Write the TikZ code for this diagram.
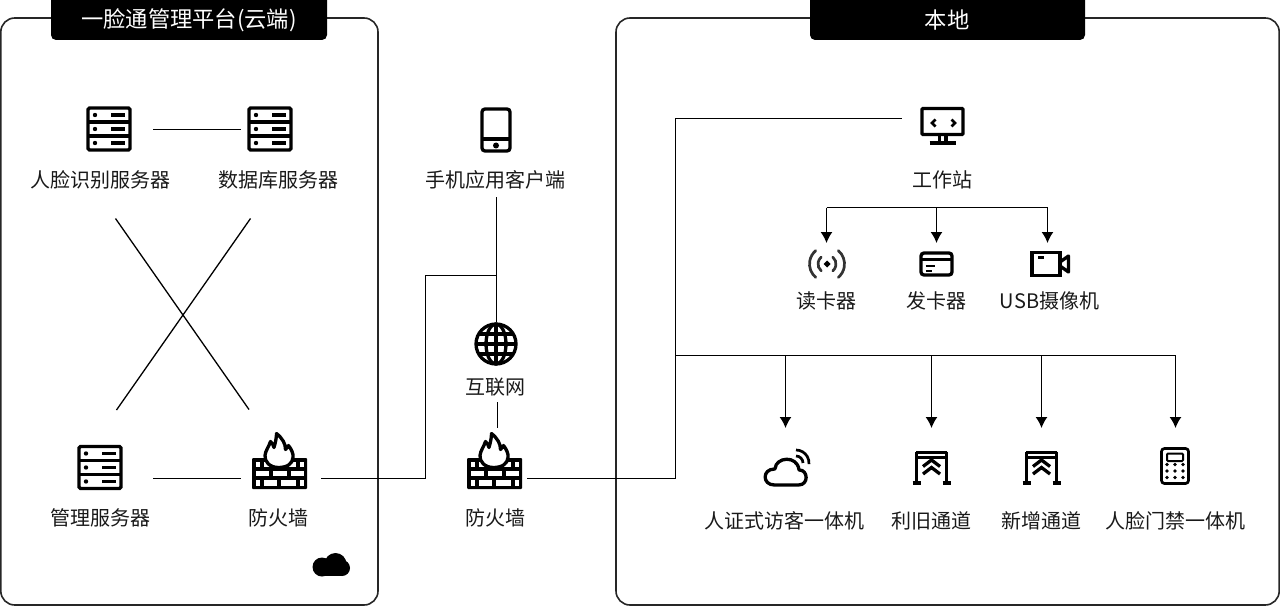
\documentclass[tikz,border=0pt]{standalone}
\usepackage{fontspec}
\setmainfont{Noto Sans CJK SC}
\usetikzlibrary{arrows.meta}
\newdimen\px \px=0.75pt
\tikzset{
  x=0.75pt,y=-0.75pt,
  panel/.style={draw=black!85,line width=1.6\px,rounded corners=14\px},
  titlebar/.style={fill=black,rounded corners=5\px},
  titletext/.style={text=white,font=\fontsize{16.7pt}{18pt}\selectfont,inner sep=0pt},
  lab/.style={font=\fontsize{15pt}{17pt}\selectfont,inner sep=0pt,text=black!90},
  link/.style={draw=black,line width=1.3\px},
  arrowlink/.style={link,-{Latex[length=8.25pt,width=9pt]}},
  slot/.style={inner sep=0pt,outer sep=0pt,minimum width=#1\px,minimum height=#1\px},
  ink/.style={draw=black,line width=3.3\px},
  thin ink/.style={draw=black,line width=2.7\px},
  server/.pic={
    \draw[ink,rounded corners=1.5\px] (-21,-21) rectangle (21,21);
    \draw[ink] (-21,-7) -- (21,-7) (-21,7) -- (21,7);
    \foreach \r in {-14,0,14}{
      \fill (-14,\r) circle (2.2);
      \draw[ink,line width=3.8\px] (2,\r) -- (16,\r);
    }
  },
  wall/.pic={
    \fill[black,rounded corners=1\px] (-27.5,-15.5) rectangle (27.5,15.5);
    \foreach \a/\b in {-24/-20,-16/-8.5,8.5/16,20/24}
      \fill[white] (\a,-12) rectangle (\b,-6.7);
    \foreach \a/\b in {-24/-11,-7/7,11/24}
      \fill[white] (\a,-2.7) rectangle (\b,2.6);
    \foreach \a/\b in {-24/-20,-16/-2.5,1.5/16.5,20.5/24}
      \fill[white] (\a,6.6) rectangle (\b,12);
    \draw[ink,fill=white,line join=round]
      (-1,-6) .. controls (-10,-6) and (-15,-12) .. (-14.5,-18)
      .. controls (-14,-23) and (-11,-26) .. (-9,-32)
      .. controls (-7,-30) and (-6,-28) .. (-5.5,-26)
      .. controls (-4,-31) and (-3,-36) .. (-3,-40)
      .. controls (3,-35) and (6,-30) .. (6,-24)
      .. controls (8,-26) and (8.5,-27) .. (9,-28)
      .. controls (12,-24) and (14,-20) .. (13.5,-16)
      .. controls (13,-10) and (8,-6) .. (-1,-6) -- cycle;
  },
  handset/.pic={
    \draw[ink,rounded corners=3\px] (-14,-21) rectangle (14,21);
    \draw[ink] (-14,9) -- (14,9);
    \fill (0,15.5) circle (3);
  },
  globe/.pic={
    \draw[ink] (0,0) circle (20);
    \draw[ink] (0,0) ellipse (10 and 20);
    \draw[ink] (0,-20) -- (0,20) (-20,0) -- (20,0);
    \draw[ink] (-17,-10) -- (17,-10) (-17,10) -- (17,10);
  },
  monitor/.pic={
    \draw[ink,rounded corners=1\px] (-20.5,-16.5) rectangle (20.5,9.5);
    \draw[ink] (-3,9.5) -- (-3,17.5) (3.5,9.5) -- (3.5,17.5);
    \draw[ink] (-13,18) -- (13,18);
    \draw[ink,line width=2.8\px] (-7,-5.5) -- (-10.5,-2) -- (-7,1.5);
    \draw[ink,line width=2.8\px] (9,-5.5) -- (12.5,-2) -- (9,1.5);
  },
  reader/.pic={
    \fill (0,-3.5) -- (3.5,0) -- (0,3.5) -- (-3.5,0) -- cycle;
    \foreach \s in {0,180}{
      \draw[thin ink,black!80,line cap=round] ({9*cos(\s-50)},{9*sin(\s-50)}) arc[start angle=\s-50,end angle=\s+50,radius=9];
      \draw[thin ink,black!80,line cap=round] ({17.5*cos(\s-50)},{17.5*sin(\s-50)}) arc[start angle=\s-50,end angle=\s+50,radius=17.5];
    }
  },
  card/.pic={
    \draw[ink,rounded corners=3\px] (-15.5,-11) rectangle (15.5,11);
    \draw[ink] (-15.5,-4.5) -- (15.5,-4.5);
    \draw[thin ink] (-11,2) -- (-2,2) (-11,7) -- (-5,7);
  },
  camera/.pic={
    \draw[ink] (-18,-11.5) rectangle (10,11.5);
    \draw[ink,line join=round] (10,-2) -- (18.5,-8) -- (18.5,8) -- (10,2);
    \draw[thin ink] (-12,-6.5) -- (-6,-6.5);
  },
  wificloud/.pic={
    \draw[ink,line join=round,rounded corners=0.5\px]
      (-10,18) .. controls (-23,18) and (-23,2) .. (-10,2)
      .. controls (-9,-10) and (12,-12) .. (14,3)
      .. controls (23,3) and (24,18) .. (13,18) -- cycle;
    \draw[thin ink] (11,-11) arc[start angle=-90,end angle=0,radius=7];
    \draw[thin ink] (11,-17) arc[start angle=-90,end angle=5,radius=13];
  },
  gate/.pic={
    \draw[thin ink] (-15.5,-15) -- (15.5,-15) (-15.5,-10) -- (15.5,-10);
    \draw[ink] (-15,-16) -- (-15,15) (15,-16) -- (15,15);
    \draw[ink] (-19,15.5) -- (-11,15.5) (11,15.5) -- (19,15.5);
    \draw[ink] (-8.5,-1) -- (0,-7.5) -- (8.5,-1);
    \draw[ink] (-8.5,6.5) -- (0,0) -- (8.5,6.5);
  },
  keypad/.pic={
    \draw[thin ink,rounded corners=3\px] (-13.5,-17.5) rectangle (13.5,17.5);
    \draw[thin ink,rounded corners=1\px,line width=2\px] (-8,-12.5) rectangle (8,-5);
    \foreach \dy in {-1.5,5,11.5}
      \foreach \dx in {-8,0,8}
        \fill (\dx,\dy) circle (1.8);
  },
}
\begin{document}
\begin{tikzpicture}
\useasboundingbox (0,0) rectangle (1280,606);

% Enclosing panels with their title bars
\draw[panel] (0.8,18) rectangle (378,605);
\draw[panel] (616,18) rectangle (1279.2,605);
\fill[titlebar] (51,-6) rectangle (327,40);
\fill[titlebar] (810,-6) rectangle (1085,40);
\node[titletext] (cloudTitle) at (189,20) {一脸通管理平台(云端)};
\node[titletext] (localTitle) at (947,20) {本地};

% Icon slots
\node[slot=44] (faceSrv) at (109,129) {}; \pic at (faceSrv) {server};
\node[slot=44] (dbSrv) at (270,129) {}; \pic at (dbSrv) {server};
\node[slot=44] (mgmtSrv) at (100,467.5) {}; \pic at (mgmtSrv) {server};
\node[slot=55] (wallCloud) at (279.5,473.5) {}; \pic at (wallCloud) {wall};
\node[slot=55] (wallLocal) at (494.5,473.5) {}; \pic at (wallLocal) {wall};
\node[slot=30] (phone) at (496,130) {}; \pic at (phone) {handset};
\node[slot=43] (net) at (496,344) {}; \pic at (net) {globe};
\node[slot=44] (station) at (942.5,125) {}; \pic at (station) {monitor};
\node[slot=24] (readerIcon) at (827,264) {}; \pic at (readerIcon) {reader};
\node[slot=24] (cardIcon) at (936.5,264) {}; \pic at (cardIcon) {card};
\node[slot=24] (camIcon) at (1050,264) {}; \pic at (camIcon) {camera};
\node[slot=38] (visitorIcon) at (785,467) {}; \pic at (visitorIcon) {wificloud};
\node[slot=32] (oldGate) at (931.5,467.5) {}; \pic at (oldGate) {gate};
\node[slot=32] (newGate) at (1041.5,467.5) {}; \pic at (newGate) {gate};
\node[slot=36] (doorIcon) at (1175,466) {}; \pic at (doorIcon) {keypad};

% Filled cloud in the corner of the left panel
\fill (322,567) circle (9.5);
\fill (335.5,564) circle (11);
\fill (342,568) circle (8);
\fill (322,566) rectangle (342,576);

% Labels
\node[lab] (faceLab) at (100,179.5) {人脸识别服务器};
\node[lab] (dbLab) at (278,179.5) {数据库服务器};
\node[lab] (phoneLab) at (495.5,179.5) {手机应用客户端};
\node[lab] (stationLab) at (942.5,179.5) {工作站};
\node[lab] (readerLab) at (826.5,300.5) {读卡器};
\node[lab] (cardLab) at (936.5,300.5) {发卡器};
\node[lab] (camLab) at (1049.5,300.5) {USB摄像机};
\node[lab] (netLab) at (495,387.5) {互联网};
\node[lab] (mgmtLab) at (100,517.5) {管理服务器};
\node[lab] (wallCloudLab) at (278.5,517.5) {防火墙};
\node[lab] (wallLocalLab) at (495,517.5) {防火墙};
\node[lab] (visitorLab) at (784.5,520.5) {人证式访客一体机};
\node[lab] (oldLab) at (931.5,520.5) {利旧通道};
\node[lab] (newLab) at (1041.5,520.5) {新增通道};
\node[lab] (doorLab) at (1175,520.5) {人脸门禁一体机};

% Junction and free-end points of the connectors
\coordinate (crossA) at (115.5,218.5);
\coordinate (crossB) at (249,409.5);
\coordinate (crossC) at (250.5,218.5);
\coordinate (crossD) at (116.5,410);
\coordinate (serverRowA) at (0,129.5);
\coordinate (phoneEnd) at (496.5,197);
\coordinate (netEnd) at (496.5,322);
\coordinate (netJoin) at (496.5,275.5);
\coordinate (outJoin) at (425.5,478.5);
\coordinate (outTop) at (425.5,275.5);
\coordinate (trunkLow) at (675.5,478.5);
\coordinate (trunkTop) at (675.5,118.5);
\coordinate (stationIn) at (902,118.5);
\coordinate (busStart) at (675.5,355.5);
\coordinate (treeTop) at (936.5,207.5);
\coordinate (cardEnd) at (936.5,243);
\coordinate (readerEnd) at (826.5,243);
\coordinate (camEnd) at (1047.5,243);
\coordinate (visitorEnd) at (785.5,428);
\coordinate (oldEnd) at (931.5,428);
\coordinate (newEnd) at (1041.5,428);
\coordinate (doorEnd) at (1175.5,428);
\coordinate (netDrop) at (497.5,402);
\coordinate (wallTop) at (497.5,428);

% Connectors
\draw[link,shorten <=22\px,shorten >=7\px] (faceSrv.east|-serverRowA) -- (dbSrv.west|-serverRowA);
\draw[link] (crossA) -- (crossB);
\draw[link] (crossC) -- (crossD);
\draw[link,shorten <=31\px,shorten >=11\px] (mgmtSrv.east|-outJoin) -- (wallCloud.west|-outJoin);
\draw[link,shorten <=14\px] (wallCloud.east|-outJoin) -- (outJoin) -- (outTop) -- (netJoin);
\draw[link] (phoneEnd) -- (netEnd);
\draw[link] (netDrop) -- (wallTop);
\draw[link,shorten <=5\px] (wallLocal.east|-trunkLow) -- (trunkLow) -- (trunkTop) -- (stationIn);
\draw[link] (busStart) -- (doorEnd|-busStart);
\draw[arrowlink] (visitorEnd|-busStart) -- (visitorEnd);
\draw[arrowlink] (oldEnd|-busStart) -- (oldEnd);
\draw[arrowlink] (newEnd|-busStart) -- (newEnd);
\draw[arrowlink] (doorEnd|-busStart) -- (doorEnd);
\draw[link] (readerEnd|-treeTop) -- (camEnd|-treeTop);
\draw[arrowlink] (readerEnd|-treeTop) -- (readerEnd);
\draw[arrowlink] (treeTop) -- (cardEnd);
\draw[arrowlink] (camEnd|-treeTop) -- (camEnd);
\end{tikzpicture}
\end{document}
